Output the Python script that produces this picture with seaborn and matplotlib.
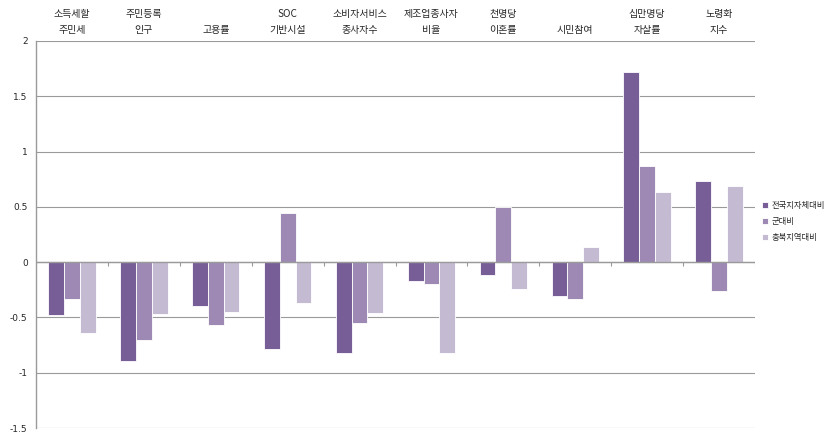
import matplotlib
matplotlib.use("Agg")
import matplotlib.pyplot as plt
import matplotlib.transforms as mtransforms
import seaborn as sns
import pandas as pd
import numpy as np

categories = ["소득세할\n주민세", "주민등록\n인구", "고용률", "SOC\n기반시설", "소비자서비스\n종사자수",
              "제조업종사자\n비율", "천명당\n이혼률", "시민참여", "십만명당\n자살률", "노령화\n지수"]
series = ["전국지자체대비", "군대비", "충북지역대비"]
national = [-0.48, -0.89, -0.40, -0.79, -0.82, -0.17, -0.12, -0.31, 1.72, 0.73]
county = [-0.33, -0.70, -0.57, 0.44, -0.55, -0.20, 0.50, -0.33, 0.87, -0.26]
chungbuk = [-0.64, -0.47, -0.45, -0.37, -0.46, -0.82, -0.24, 0.14, 0.63, 0.69]
colors = ["#775E96", "#9D89B4", "#C4BAD2"]

rows = []
for s, vals in zip(series, [national, county, chungbuk]):
    for c, v in zip(categories, vals):
        rows.append({"cat": c, "series": s, "value": v})
df = pd.DataFrame(rows)

sns.set_style("white")
plt.rcParams["font.family"] = ["Noto Sans CJK KR", "DejaVu Sans"]

fig = plt.figure(figsize=(8.24, 4.33), dpi=100)
ax = fig.add_axes([36/824, 1-428/433, (755-36)/824, (428-41)/433])

sns.barplot(data=df, x="cat", y="value", hue="series", order=categories, hue_order=series,
            palette=colors, width=0.66, edgecolor="white", linewidth=0.6, ax=ax,
            errorbar=None, saturation=1)

ax.set_xlim(-0.5, len(categories) - 0.5)
ax.set_ylim(-1.5, 2)
ax.set_yticks(np.arange(-1.5, 2.01, 0.5))
ax.set_yticklabels(["-1.5", "-1", "-0.5", "0", "0.5", "1", "1.5", "2"], fontsize=6.5,
                   family="DejaVu Sans")
ax.grid(axis="y", color="#9a9a9a", linewidth=0.8)
ax.set_axisbelow(True)
ax.set_xlabel("")
ax.set_ylabel("")

for sp in ["top", "right", "bottom"]:
    ax.spines[sp].set_visible(False)
ax.spines["left"].set_color("#9a9a9a")
ax.spines["left"].set_linewidth(1.0)
ax.tick_params(axis="y", length=4, color="#9a9a9a", pad=2)
ax.set_xticks([])

# zero baseline with category-boundary tick marks (Excel-style category axis)
ax.axhline(0, color="#9a9a9a", linewidth=1.0, zorder=1.5)
boundaries = np.arange(len(categories) + 1) - 0.5
ax.vlines(boundaries[1:], -0.035, 0, color="#9a9a9a", linewidth=0.8, zorder=1.5)

trans = mtransforms.blended_transform_factory(ax.transData, ax.transAxes)
for i, c in enumerate(categories):
    ax.text(i, 1.0 + 6/387, c, transform=trans, ha="center", va="bottom",
            fontsize=7.2, linespacing=1.75)

ax.legend(loc="upper left", bbox_to_anchor=(758/824, 1-197/433), bbox_transform=fig.transFigure,
          frameon=False, fontsize=6, handlelength=0.7, handleheight=0.7, handletextpad=0.4,
          labelspacing=0.85, borderpad=0)

fig.savefig("out.png", dpi=100)
